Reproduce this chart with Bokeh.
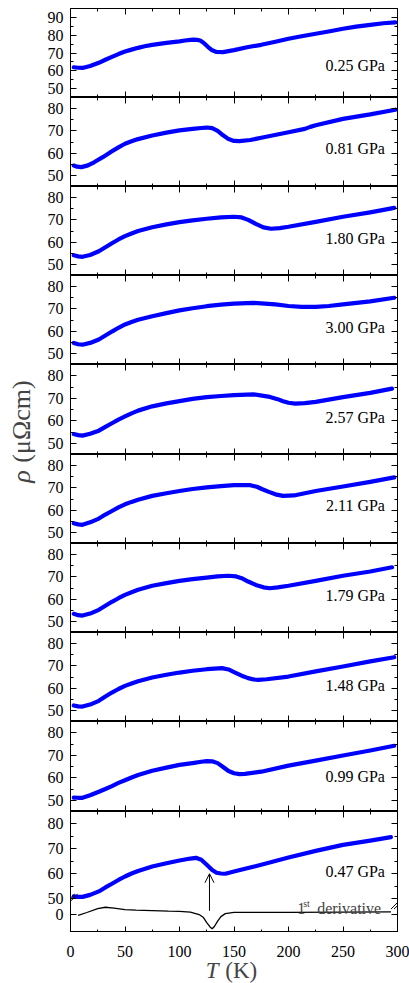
import numpy as np
from bokeh.plotting import figure
from bokeh.models import (Range1d, FixedTicker, Label, Arrow, OpenHead, LinearAxis,
                          CustomJSTickFormatter, ColumnDataSource)
from bokeh.layouts import column, row
from bokeh.embed import file_html
from bokeh.resources import INLINE

FONT = "'Liberation Serif'"

# ---------------- data ----------------
pressures = ["0.25 GPa", "0.81 GPa", "1.80 GPa", "3.00 GPa", "2.57 GPa",
             "2.11 GPa", "1.79 GPa", "1.48 GPa", "0.99 GPa", "0.47 GPa"]

T_025 = [3, 7, 11, 18, 26, 32, 38, 44, 50, 56, 62, 68, 75, 88, 100, 105, 110, 113, 116, 119, 122, 126, 130, 134, 140, 150, 162, 175, 188, 200, 212, 225, 238, 250, 262, 275, 287, 298]
R_025 = [62.0, 61.7, 61.6, 62.7, 64.5, 66.2, 67.8, 69.4, 70.8, 71.9, 72.9, 73.8, 74.6, 75.7, 76.5, 77.0, 77.4, 77.5, 77.4, 77.0, 75.8, 73.5, 71.5, 70.6, 70.5, 71.6, 73.2, 74.6, 76.3, 78.0, 79.4, 80.8, 82.2, 83.6, 84.8, 85.8, 86.7, 87.2]

T_081 = [3, 6, 10, 16, 22, 30, 38, 44, 50, 56, 62, 75, 88, 100, 112, 120, 125, 130, 135, 140, 145, 150, 155, 165, 175, 200, 215, 220, 225, 250, 275, 298]
R_081 = [54.4, 53.9, 53.7, 54.5, 56.0, 58.3, 60.8, 62.6, 64.2, 65.3, 66.3, 67.9, 69.2, 70.2, 70.9, 71.3, 71.5, 71.2, 70.0, 68.0, 66.3, 65.5, 65.4, 65.9, 66.9, 69.4, 70.9, 71.8, 72.5, 75.4, 77.4, 79.5]

T_180 = [3, 7, 11, 18, 26, 32, 38, 44, 50, 56, 62, 75, 88, 100, 112, 125, 138, 150, 157, 163, 170, 177, 184, 192, 200, 225, 250, 275, 297]
R_180 = [54.1, 53.6, 53.4, 54.2, 55.9, 57.7, 59.5, 61.2, 62.7, 63.9, 65.0, 66.7, 68.0, 69.0, 69.8, 70.5, 71.1, 71.4, 71.1, 70.0, 68.2, 66.6, 66.0, 66.3, 66.9, 69.1, 71.4, 73.4, 75.4]

T_300 = [3, 7, 11, 18, 26, 32, 38, 44, 50, 56, 62, 75, 88, 100, 112, 125, 138, 150, 168, 188, 200, 212, 225, 237, 250, 275, 297]
R_300 = [54.7, 54.1, 53.9, 54.7, 56.2, 58.0, 59.8, 61.5, 63.0, 64.1, 65.1, 66.7, 68.1, 69.3, 70.3, 71.2, 71.9, 72.4, 72.7, 72.0, 71.3, 70.9, 70.9, 71.3, 72.0, 73.4, 75.0]

T_257 = [3, 7, 11, 18, 26, 32, 38, 44, 50, 56, 62, 75, 88, 100, 112, 125, 138, 150, 168, 183, 190, 195, 200, 206, 215, 225, 250, 275, 295]
R_257 = [54.1, 53.6, 53.4, 54.2, 55.6, 57.3, 58.9, 60.5, 61.9, 63.3, 64.5, 66.4, 67.7, 68.7, 69.7, 70.5, 71.0, 71.4, 71.7, 70.6, 69.6, 68.7, 68.0, 67.6, 67.8, 68.4, 70.5, 72.4, 74.3]

T_211 = [3, 7, 11, 18, 26, 32, 38, 44, 50, 56, 62, 75, 88, 100, 112, 125, 138, 150, 165, 171, 176, 182, 188, 195, 205, 225, 250, 275, 297]
R_211 = [54.1, 53.6, 53.4, 54.5, 56.2, 58.0, 59.6, 61.2, 62.6, 63.7, 64.7, 66.4, 67.6, 68.6, 69.5, 70.2, 70.8, 71.2, 71.2, 70.5, 69.4, 68.2, 67.1, 66.4, 66.6, 68.6, 70.6, 72.7, 74.7]

T_179 = [3, 7, 11, 18, 26, 32, 38, 44, 50, 56, 62, 75, 88, 100, 112, 125, 135, 145, 152, 157, 163, 170, 177, 183, 190, 200, 225, 250, 275, 295]
R_179 = [53.4, 52.8, 52.6, 53.5, 55.2, 57.0, 58.8, 60.4, 61.9, 63.1, 64.2, 66.0, 67.2, 68.2, 69.0, 69.7, 70.2, 70.5, 70.2, 69.4, 67.9, 66.4, 65.3, 64.9, 65.3, 66.0, 68.2, 70.5, 72.4, 74.3]

T_148 = [3, 7, 11, 18, 26, 32, 38, 44, 50, 56, 62, 75, 88, 100, 112, 125, 139, 145, 151, 157, 163, 168, 172, 180, 200, 225, 250, 275, 297]
R_148 = [52.2, 51.8, 51.7, 52.6, 54.3, 56.2, 58.0, 59.6, 61.0, 62.1, 63.1, 64.8, 66.0, 67.0, 67.8, 68.5, 69.0, 68.4, 67.0, 65.6, 64.5, 63.9, 63.7, 64.0, 65.2, 67.5, 69.7, 72.0, 73.9]

T_099 = [3, 7, 11, 18, 26, 32, 38, 44, 50, 56, 62, 75, 88, 100, 112, 120, 125, 130, 135, 140, 145, 150, 155, 160, 175, 200, 225, 250, 275, 297]
R_099 = [51.2, 51.1, 51.1, 52.2, 53.8, 55.0, 56.3, 57.7, 58.9, 60.1, 61.2, 63.1, 64.5, 65.7, 66.5, 67.1, 67.4, 67.3, 66.5, 64.8, 63.0, 62.0, 61.6, 61.7, 62.7, 65.4, 67.6, 69.9, 72.1, 74.2]

T_047 = [3, 7, 11, 18, 26, 32, 38, 44, 50, 56, 62, 75, 88, 100, 110, 115, 120, 125, 130, 134, 138, 142, 150, 162, 175, 200, 225, 250, 275, 294]
R_047 = [50.9, 50.7, 50.7, 51.5, 52.9, 54.5, 56.0, 57.5, 58.9, 60.1, 61.1, 62.9, 64.2, 65.3, 66.1, 66.4, 65.6, 63.6, 61.5, 60.4, 60.1, 60.0, 60.9, 62.2, 63.6, 66.5, 69.2, 71.6, 73.3, 74.7]

# first derivative of the 0.47 GPa curve (arbitrary units, baseline tick = 0)
T_der = [7, 15, 25, 32, 40, 50, 60, 75, 90, 100, 110, 118, 122, 125, 128, 130, 132, 135, 138, 142, 150, 175, 200, 250, 294]
D_der = [-0.04, 0.09, 0.26, 0.32, 0.28, 0.22, 0.19, 0.17, 0.15, 0.14, 0.11, 0.0, -0.13, -0.35, -0.54, -0.62, -0.52, -0.29, -0.09, 0.04, 0.10, 0.10, 0.10, 0.11, 0.12]

T_transition = 127.5   # arrow position (K)

x_major = [0, 50, 100, 150, 200, 250, 300]
x_minor = [25, 75, 125, 175, 225, 275]

series = [(T_025, R_025), (T_081, R_081), (T_180, R_180), (T_300, R_300), (T_257, R_257),
          (T_211, R_211), (T_179, R_179), (T_148, R_148), (T_099, R_099), (T_047, R_047)]

# ---------------- layout ----------------
frame_h = [89, 89, 89, 89, 90, 89, 89, 89, 90, 121]
y_lo = [45, 45, 45, 45, 45, 45, 45, 45, 45, 36.4]
y_hi = [95, 85, 85, 85, 85, 85, 85, 85, 85, 85]
label_y = [63.0, 61.9, 61.6, 61.5, 61.5, 61.9, 61.6, 61.2, 60.4, 60.9]
der_lo, der_hi = -0.783, 4.5

YL_W = 44
PW = 365
LEFT, RIGHT = 26, 12
TOP_EXTRA = 8
PAGE_H = 983
AX_H = PAGE_H - TOP_EXTRA - sum(frame_h)   # strip holding x tick labels and title
AX_LABEL_BAND = 24


def style_axis(ax, show_labels):
    ax.major_tick_in = 6
    ax.major_tick_out = 0
    ax.minor_tick_in = 3
    ax.minor_tick_out = 0
    ax.major_tick_line_color = "black"
    ax.minor_tick_line_color = "black"
    ax.major_tick_line_width = 1
    ax.minor_tick_line_width = 1
    ax.axis_line_color = None
    if show_labels:
        ax.major_label_text_font = FONT
        ax.major_label_text_font_size = "16px"
        ax.major_label_text_color = "black"
    else:
        ax.major_label_text_font_size = "0px"
        ax.major_label_standoff = 0
        ax.major_label_text_alpha = 0


x_range = Range1d(0, 300)
panels = []
n = len(series)
for i, (T, R) in enumerate(series):
    last = (i == n - 1)
    first = (i == 0)
    h = frame_h[i] + (TOP_EXTRA if first else 0)
    p = figure(width=PW, height=h, x_range=x_range, y_range=Range1d(y_lo[i], y_hi[i]),
               output_backend="svg", toolbar_location=None,
               x_axis_location=None, y_axis_location=None,
               min_border_left=LEFT, min_border_right=RIGHT,
               min_border_top=(TOP_EXTRA if first else 0), min_border_bottom=0)
    p.grid.visible = False
    p.outline_line_color = "black"
    p.outline_line_width = 1.0
    p.background_fill_color = "white"
    p.border_fill_color = "white"

    xt = FixedTicker(ticks=x_major, minor_ticks=x_minor)
    if first:
        yt = FixedTicker(ticks=[50, 60, 70, 80, 90], minor_ticks=[45, 55, 65, 75, 85, 95])
    elif last:
        zero_pos = y_lo[i] + (0 - der_lo) / (der_hi - der_lo) * (y_hi[i] - y_lo[i])
        yt = FixedTicker(ticks=[zero_pos, 50, 60, 70, 80], minor_ticks=[55, 65, 75, 85])
    else:
        yt = FixedTicker(ticks=[50, 60, 70, 80], minor_ticks=[45, 55, 65, 75, 85])

    ax_b = LinearAxis(ticker=xt)
    style_axis(ax_b, False)
    p.add_layout(ax_b, "below")
    ax_t = LinearAxis(ticker=xt)
    style_axis(ax_t, False)
    p.add_layout(ax_t, "above")

    ax_l = LinearAxis(ticker=yt)
    style_axis(ax_l, True)
    ax_l.major_label_standoff = 7
    if last:
        ax_l.formatter = CustomJSTickFormatter(code="return tick < 45 ? '0' : tick.toFixed(0);")
    p.add_layout(ax_l, "left")
    ax_r = LinearAxis(ticker=yt)
    style_axis(ax_r, False)
    p.add_layout(ax_r, "right")

    src = ColumnDataSource(dict(T=T, R=R))
    p.line("T", "R", source=src, line_color="#0000ff", line_width=4.2, line_cap="round", line_join="round")

    p.add_layout(Label(x=288.5, y=label_y[i], text=pressures[i], text_align="right",
                       text_baseline="middle", text_font=FONT, text_font_size="16px",
                       text_color="black"))

    if last:
        p.extra_y_ranges = {"deriv": Range1d(der_lo, der_hi)}
        dsrc = ColumnDataSource(dict(T=T_der, D=D_der))
        p.line("T", "D", source=dsrc, y_range_name="deriv", line_color="black", line_width=1.3)
        p.add_layout(Arrow(end=OpenHead(size=9, line_width=1, line_color="black"),
                           x_start=T_transition, y_start=45.1, x_end=T_transition, y_end=60.0,
                           line_width=1, line_color="black"))
        p.add_layout(Label(x=208, y=46.0, text="1", text_font=FONT, text_font_size="16px",
                           text_baseline="alphabetic", text_align="left"))
        p.add_layout(Label(x=213.5, y=48.2, text="st", text_font=FONT, text_font_size="10px",
                           text_baseline="alphabetic", text_align="left"))
        p.add_layout(Label(x=285, y=46.0, text="derivative", text_font=FONT, text_font_size="16px",
                           text_baseline="alphabetic", text_align="right"))
        for xs in (-7.3, -4.5):
            p.add_layout(Arrow(start=None, end=None, x_start=xs, y_start=47.0, x_end=xs + 11, y_end=51.8,
                               line_width=1, line_color="black"))
        for xs in (294.0, 296.8):
            p.add_layout(Arrow(start=None, end=None, x_start=xs, y_start=45.8, x_end=xs + 11, y_end=50.6,
                               line_width=1, line_color="black"))
    panels.append(p)

# strip below the bottom panel: x tick labels (axis above its frame) and the title "T (K)"
title_frame_h = AX_H - AX_LABEL_BAND
ax_fig = figure(width=PW, height=AX_H, x_range=x_range, y_range=Range1d(0, title_frame_h),
                output_backend="svg", toolbar_location=None, x_axis_location=None, y_axis_location=None,
                min_border_left=LEFT, min_border_right=RIGHT, min_border_top=AX_LABEL_BAND,
                min_border_bottom=0, outline_line_color=None)
ax_fig.grid.visible = False
ax_lab = LinearAxis(ticker=FixedTicker(ticks=x_major, minor_ticks=[]))
ax_lab.major_tick_in = 0
ax_lab.major_tick_out = 0
ax_lab.minor_tick_in = 0
ax_lab.minor_tick_out = 0
ax_lab.axis_line_color = None
ax_lab.major_tick_line_color = None
ax_lab.major_label_text_font = FONT
ax_lab.major_label_text_font_size = "16px"
ax_lab.major_label_text_color = "black"
ax_lab.major_label_standoff = 0
ax_fig.add_layout(ax_lab, "above")
ax_fig.add_layout(Label(x=130, y=title_frame_h / 2, text="T", text_font=FONT, text_font_size="23px",
                        text_font_style="italic", text_align="center", text_baseline="middle"))
ax_fig.add_layout(Label(x=142, y=title_frame_h / 2, text="(K)", text_font=FONT, text_font_size="23px",
                        text_align="left", text_baseline="middle"))

yl = figure(width=YL_W, height=PAGE_H, x_range=Range1d(0, YL_W), y_range=Range1d(0, PAGE_H),
            output_backend="svg", toolbar_location=None, x_axis_location=None, y_axis_location=None,
            min_border=0, outline_line_color=None)
yl.grid.visible = False
yl.add_layout(Label(x=21, y=PAGE_H - 476, text="ρ", text_font=FONT, text_font_size="26px",
                    text_font_style="italic", angle=np.pi / 2, text_align="center", text_baseline="middle"))
yl.add_layout(Label(x=21, y=PAGE_H - 421, text="(μΩcm)", text_font=FONT, text_font_size="26px",
                    angle=np.pi / 2, text_align="center", text_baseline="middle"))

layout = row(yl, column(*panels, ax_fig, spacing=0), spacing=0)
open("out.html", "w").write(file_html(layout, INLINE))
